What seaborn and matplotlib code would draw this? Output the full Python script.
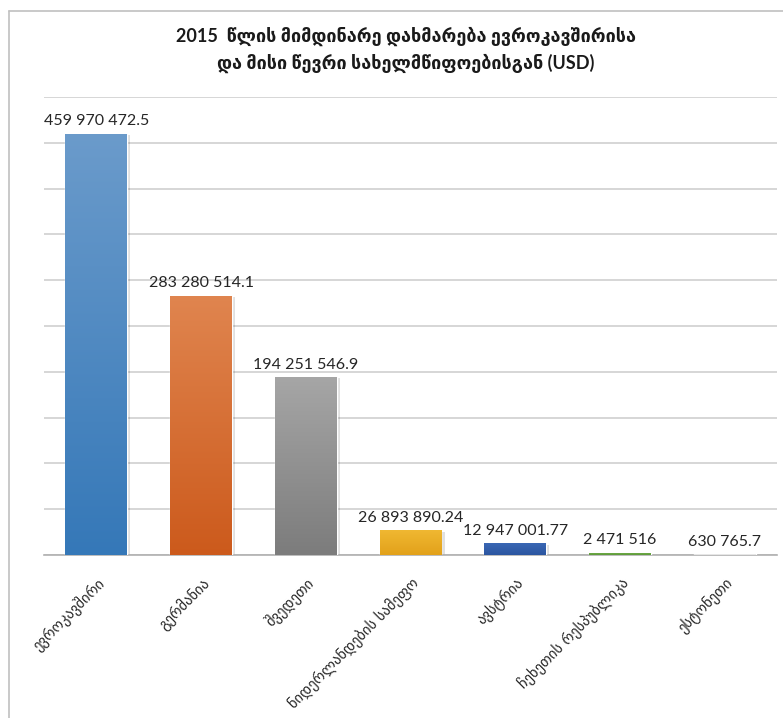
import numpy as np
import pandas as pd
import matplotlib.pyplot as plt
import matplotlib.colors as mcolors
from matplotlib.lines import Line2D
import seaborn as sns

# Datos del gráfico
paises = ['ევროკავშირი', 'გერმანია', 'შვედეთი', 'ნიდერლანდების სამეფო',
          'ავსტრია', 'ჩეხეთის რესპუბლიკა', 'ესტონეთი']
montos = [459970472.5, 283280514.1, 194251546.9, 26893890.24,
          12947001.77, 2471516, 630765.7]
colores_arriba = ['#6b9bcb', '#e0854f', '#a6a6a6', '#f0b832', '#3a67b4', '#74b04c', '#ececec']
colores_abajo = ['#3578b8', '#cc5a1c', '#7c7c7c', '#e2a11a', '#2b55a0', '#5e9a3a', '#dcdcdc']
titulo = '2015  წლის მიმდინარე დახმარება ევროკავშირისა\nდა მისი წევრი სახელმწიფოებისგან (USD)'


def formatear(v):
    s = f"{v:,.2f}".rstrip('0').rstrip('.')
    return s.replace(',', ' ')


df = pd.DataFrame({'pais': paises, 'monto': montos})

sns.set_theme(style='white')
plt.rcParams['font.family'] = ['Lato', 'DejaVu Sans']

fig = plt.figure(figsize=(7.83, 7.18), dpi=100)
ax = fig.add_axes([44 / 783, 1 - 555 / 718, (777 - 44) / 783, (555 - 97) / 718])

sns.barplot(data=df, x='pais', y='monto', hue='pais', palette=colores_abajo,
            width=0.59, legend=False, ax=ax, zorder=3)

ax.set_ylim(0, 500e6)
ax.set_yticks(np.arange(0, 500e6 + 1, 50e6))
ax.yaxis.grid(True, color='#d0d0d0', linewidth=1.2, zorder=0)
ax.set_yticklabels([])
ax.tick_params(axis='y', length=0)
ax.tick_params(axis='x', length=0, pad=14)
for lado in ['left', 'right', 'top']:
    ax.spines[lado].set_visible(False)
ax.spines['bottom'].set_color('#b0b0b0')
ax.spines['bottom'].set_linewidth(1.2)
ax.set_xlabel('')
ax.set_ylabel('')
ax.set_xlim(-0.5, len(paises) - 0.5)

# degradado vertical en cada barra + sombra
for i, barra in enumerate(ax.patches):
    x0, y0 = barra.get_x(), barra.get_y()
    w, h = barra.get_width(), barra.get_height()
    sombra = plt.Rectangle((x0 + 0.03, y0 - 1.5e6), w, h, color='#000000',
                           alpha=0.12, zorder=2, linewidth=0)
    ax.add_patch(sombra)
    cmap = mcolors.LinearSegmentedColormap.from_list(
        f'g{i}', [colores_abajo[i], colores_arriba[i]])
    grad = np.linspace(0, 1, 256).reshape(-1, 1)
    img = ax.imshow(grad, extent=[x0, x0 + w, y0, y0 + h], origin='lower',
                    cmap=cmap, aspect='auto', zorder=4)
    img.set_clip_path(barra)
    ax.text(x0 + w / 2, y0 + h + 6e6, formatear(montos[i]), ha='center', va='bottom',
            fontsize=11.5, color='#262626', zorder=5)
ax.set_aspect('auto')
ax.set_xlim(-0.5, len(paises) - 0.5)
ax.set_ylim(0, 500e6)

ax.set_xticks(range(len(paises)))
ax.set_xticklabels(paises, rotation=45, ha='right', rotation_mode='anchor',
                   fontsize=10.5, color='#262626', family=['DejaVu Sans'])

fig.text(0.518, 1 - 50 / 718, titulo, ha='center', va='center', fontsize=13,
         fontweight='bold', color='#1a1a1a', linespacing=1.5,
         family=['Lato', 'DejaVu Sans'])

# marco del gráfico (recortado a la derecha y abajo)
fig.add_artist(Line2D([9 / 783, 9 / 783], [0, 1 - 11 / 718], color='#c0c0c0', lw=1.2))
fig.add_artist(Line2D([9 / 783, 1], [1 - 11 / 718, 1 - 11 / 718], color='#c0c0c0', lw=1.2))

fig.savefig('out.png', dpi=100)
plt.close()
